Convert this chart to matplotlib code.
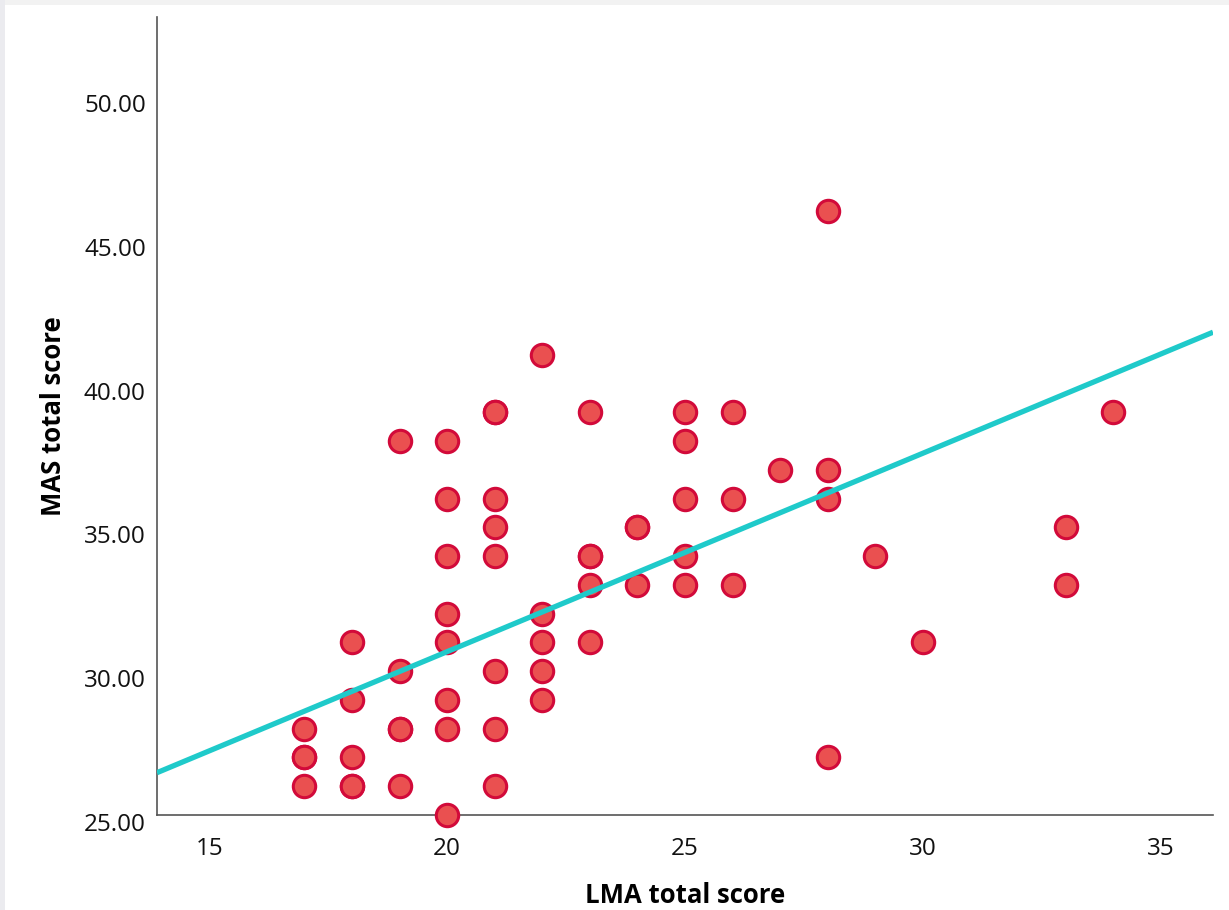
import matplotlib
matplotlib.use("Agg")
import matplotlib.pyplot as plt
from matplotlib.patches import Rectangle
from matplotlib.transforms import ScaledTranslation

plt.rcParams['font.family'] = ['Open Sans', 'DejaVu Sans']

# Data (LMA total score, MAS total score)
lma = [17, 17, 17, 17,
       18, 18, 18, 18, 18,
       19, 19, 19, 19, 19,
       20, 20, 20, 20, 20, 20, 20, 20,
       21, 21, 21, 21, 21, 21, 21, 21,
       22, 22, 22, 22, 22,
       23, 23, 23, 23, 23,
       24, 24, 24,
       25, 25, 25, 25, 25,
       26, 26, 26,
       27,
       28, 28, 28, 28,
       29, 30, 33, 33, 34]
mas = [28, 27, 27, 26,
       31, 29, 27, 26, 26,
       38, 30, 28, 28, 26,
       38, 36, 34, 32, 31, 29, 28, 25,
       39, 39, 36, 35, 34, 30, 28, 26,
       41, 32, 31, 30, 29,
       39, 34, 34, 33, 31,
       35, 35, 33,
       39, 38, 36, 34, 33,
       39, 36, 33,
       37,
       46, 37, 36, 27,
       34, 31, 35, 33, 39]

# Fit line coefficients
fit_intercept = 16.88
fit_slope = 0.69

x_ticks = [15, 20, 25, 30, 35]
y_ticks = [25, 30, 35, 40, 45, 50]

fig = plt.figure(figsize=(12.29, 9.10), dpi=100)
fig.patch.set_facecolor('white')
# light grey frame strips at top and left
fig.patches.append(Rectangle((0, 1 - 5/910), 1, 5/910, transform=fig.transFigure,
                             facecolor='#f2f2f2', edgecolor='none', zorder=0))
fig.patches.append(Rectangle((0, 0), 5/1229, 1, transform=fig.transFigure,
                             facecolor='#ebebef', edgecolor='none', zorder=0))

ax = fig.add_axes([0.1277, 0.1044, 0.987 - 0.1277, 0.9813 - 0.1044])
xmin, xmax = 13.9, 36.1
ymin, ymax = 25.0, 52.75

ax.scatter(lma, mas, s=260, facecolor='#EA5050', edgecolor='#D20A3A',
           linewidths=2.2, zorder=3, clip_on=False)
ax.plot([xmin, xmax], [fit_intercept + fit_slope * xmin, fit_intercept + fit_slope * xmax],
        color='#1FCACA', lw=3.8, zorder=4, solid_capstyle='butt')

ax.set_xlim(xmin, xmax)
ax.set_ylim(ymin, ymax)
ax.set_xticks(x_ticks)
ax.set_xticklabels([str(t) for t in x_ticks])
ax.set_yticks(y_ticks)
ax.set_yticklabels([f"{t:.2f}" for t in y_ticks])
ax.tick_params(length=0, labelsize=17.5, colors='#111111')
ax.tick_params(axis='x', pad=16)
ax.tick_params(axis='y', pad=8)
off = ScaledTranslation(0, -7/100, fig.dpi_scale_trans)
for lab in ax.get_yticklabels():
    lab.set_transform(lab.get_transform() + off)

for side in ['top', 'right']:
    ax.spines[side].set_visible(False)
for side in ['left', 'bottom']:
    ax.spines[side].set_color('#555555')
    ax.spines[side].set_linewidth(1.2)

ax.set_xlabel('LMA total score', fontsize=18.5, fontweight='bold', labelpad=15)
ax.set_ylabel('MAS total score', fontsize=18.5, fontweight='bold', labelpad=12)

fig.savefig('out.png', dpi=100, facecolor=fig.get_facecolor())
